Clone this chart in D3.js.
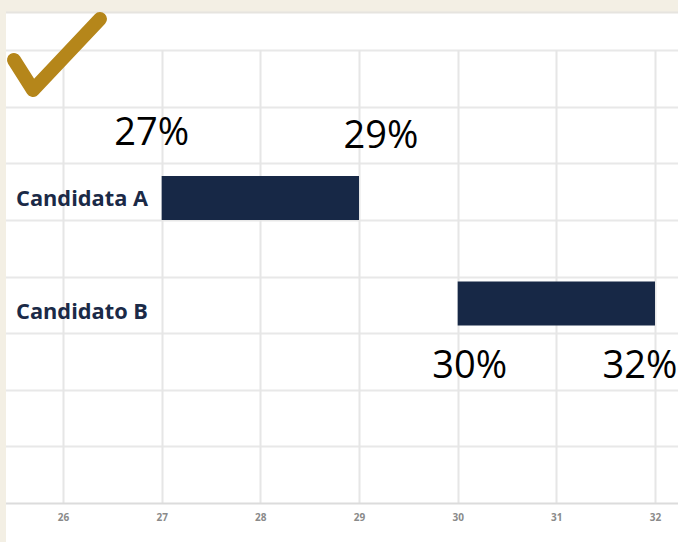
<!DOCTYPE html>
<html><head><meta charset="utf-8">
<script src="https://cdn.jsdelivr.net/npm/d3@7"></script>
<style>
html,body{margin:0;padding:0;background:#f3efe4;}
svg{display:block;}
</style></head>
<body>
<script>
const categories = ["Candidata A", "Candidato B"];
const rangeStart = [27, 30];
const rangeEnd = [29, 32];
const startLabels = ["27%", "30%"];
const endLabels = ["29%", "32%"];
const tickValues = [26, 27, 28, 29, 30, 31, 32];

const W = 678, H = 542;
const svg = d3.select("body").append("svg").attr("width", W).attr("height", H);

// panel
svg.append("rect").attr("x", 6).attr("y", 12).attr("width", W - 6).attr("height", H - 12).attr("fill", "#ffffff");
svg.append("line").attr("x1", 6).attr("x2", W).attr("y1", 12.5).attr("y2", 12.5).attr("stroke", "#e6e4df").attr("stroke-width", 2);

const x = d3.scaleLinear().domain([26, 32]).range([63, 655]);
const y = d3.scalePoint().domain(categories).range([198, 303.5]);
const gridY = d3.scaleLinear().domain([0, 8]).range([50, 503]);

// horizontal grid
svg.append("g").selectAll("line").data(d3.range(0, 8)).join("line")
  .attr("x1", 6).attr("x2", W)
  .attr("y1", d => Math.round(gridY(d)) + 0.5).attr("y2", d => Math.round(gridY(d)) + 0.5)
  .attr("stroke", "#e8e8e8").attr("stroke-width", 2);

// vertical grid
svg.append("g").selectAll("line").data(tickValues).join("line")
  .attr("x1", d => Math.round(x(d)) + 0.5).attr("x2", d => Math.round(x(d)) + 0.5)
  .attr("y1", 50).attr("y2", 503)
  .attr("stroke", "#e6e6e6").attr("stroke-width", 2);

// axis
const axis = svg.append("g").attr("transform", "translate(0,503)")
  .call(d3.axisBottom(x).tickValues(tickValues).tickFormat(d3.format("d")).tickSize(0).tickPadding(11));
axis.select(".domain").remove();
svg.append("line").attr("x1", 6).attr("x2", W).attr("y1", 503.5).attr("y2", 503.5)
  .attr("stroke", "#dcdcdc").attr("stroke-width", 2);
axis.selectAll("text").attr("font-family", "Open Sans, sans-serif").attr("font-size", 10)
  .attr("font-weight", 700).attr("fill", "#8a8a8a");

// bars
const bh = 44;
svg.append("g").selectAll("rect").data(categories).join("rect")
  .attr("x", (d, i) => x(rangeStart[i]))
  .attr("y", d => y(d) - bh / 2)
  .attr("width", (d, i) => x(rangeEnd[i]) - x(rangeStart[i]))
  .attr("height", bh)
  .attr("fill", "#172846");

// category labels
svg.append("g").selectAll("text").data(categories).join("text")
  .attr("x", 16).attr("y", (d, i) => y(d) + (i === 0 ? 8 : 15))
  .attr("font-family", "Open Sans, sans-serif").attr("font-weight", 700).attr("font-size", 22)
  .attr("textLength", 132).attr("lengthAdjust", "spacingAndGlyphs")
  .attr("fill", "#1b2a47").text(d => d);

// percent labels
const pct = svg.append("g").attr("font-family", "Open Sans, sans-serif").attr("font-size", 38)
  .attr("fill", "#000").attr("text-anchor", "middle");
pct.append("text").attr("x", x(rangeStart[0]) - 10).attr("y", y(categories[0]) - 53).text(startLabels[0]);
pct.append("text").attr("x", x(rangeEnd[0]) + 22).attr("y", y(categories[0]) - 50).text(endLabels[0]);
pct.append("text").attr("x", x(rangeStart[1]) + 12).attr("y", y(categories[1]) + 74).text(startLabels[1]);
pct.append("text").attr("x", x(rangeEnd[1]) - 15).attr("y", y(categories[1]) + 74).text(endLabels[1]);

// checkmark
svg.append("path").attr("d", "M14,60 L33,90 L100,19")
  .attr("fill", "none").attr("stroke", "#b5861a").attr("stroke-width", 14)
  .attr("stroke-linecap", "round").attr("stroke-linejoin", "round");
</script>
</body></html>
